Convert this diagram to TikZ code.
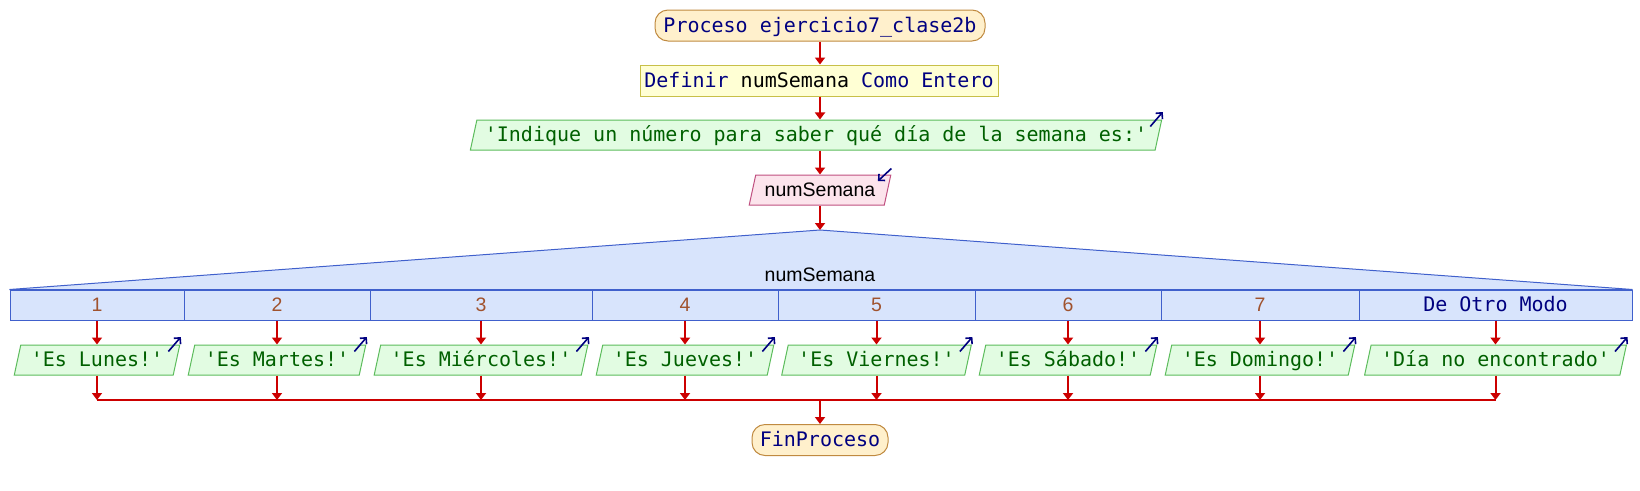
\documentclass[tikz,border=0pt]{standalone}
\usepackage{fontspec}
\setmainfont{Liberation Sans}
\setmonofont{DejaVu Sans Mono}
\usetikzlibrary{shapes.geometric,arrows.meta}
\definecolor{procfill}{HTML}{FFF0CC}
\definecolor{procdraw}{HTML}{C08A40}
\definecolor{deffill}{HTML}{FFFFD4}
\definecolor{defdraw}{HTML}{C8C048}
\definecolor{outfill}{HTML}{E2FCE2}
\definecolor{outdraw}{HTML}{5CBC5C}
\definecolor{outtext}{HTML}{006000}
\definecolor{infill}{HTML}{FCE4EC}
\definecolor{indraw}{HTML}{C05080}
\definecolor{swfill}{HTML}{D8E4FC}
\definecolor{swdraw}{HTML}{4060CC}
\definecolor{casetext}{HTML}{A0522D}
\definecolor{navyc}{HTML}{000080}
\definecolor{flowred}{HTML}{CC0000}
\newcommand\monof{\ttfamily\fontsize{20}{24}\selectfont}
\newcommand\sansf{\rmfamily\fontsize{19.5}{23}\selectfont}
\tikzset{
  txt/.style={text height=16.5pt, text depth=3.5pt},
  flow/.style={draw=flowred, line width=2pt, -{Triangle[length=7pt,width=10pt]}},
  flowline/.style={draw=flowred, line width=2pt},
  term/.style={txt, rectangle, rounded corners=13pt, draw=procdraw, fill=procfill, line width=1pt, minimum height=31pt, text=navyc, font=\monof, inner sep=0pt},
  defbox/.style={txt, rectangle, draw=defdraw, fill=deffill, line width=1pt, minimum height=31pt, font=\monof, inner sep=0pt},
  outp/.style={txt, trapezium, trapezium left angle=72, trapezium right angle=108, trapezium stretches body, draw=outdraw, fill=outfill, line width=1pt, minimum height=30pt, inner xsep=10pt, inner ysep=0pt, text=outtext, font=\monof},
  inp/.style={txt, trapezium, trapezium left angle=72, trapezium right angle=108, trapezium stretches body, draw=indraw, fill=infill, line width=1pt, minimum height=30pt, inner xsep=9pt, inner ysep=0pt, text=black, font=\sansf},
  cell/.style={txt, rectangle, draw=swdraw, fill=swfill, line width=1pt, minimum height=30pt, inner sep=0pt, font=\sansf, text=casetext},
  iconarrow/.style={draw=navyc, line width=1.6pt, -{Straight Barb[length=4.5pt,width=9pt]}},
}
\begin{document}
\begin{tikzpicture}[x=1pt,y=-1pt]
\useasboundingbox (0,0) rectangle (1640,490);
% top sequence
\node[term, minimum width=330pt] (proc) at (820,25.5) {Proceso ejercicio7\_clase2b};
\node[defbox, minimum width=358pt] (def) at (819,80.5) {{\color{navyc}Definir} numSemana {\color{navyc}Como Entero}};
\node[outp, inner xsep=8pt] (out0) at (816,135) {\textquotesingle Indique un número para saber qué día de la semana es:\textquotesingle};
\node[inp] (in0) at (820,190) {numSemana};
\coordinate (apex) at (820,230);
% switch cells
\node[cell, minimum width=174pt] (c1) at (97,305) {1};
\node[cell, minimum width=186pt] (c2) at (277,305) {2};
\node[cell, minimum width=222pt] (c3) at (481,305) {3};
\node[cell, minimum width=186pt] (c4) at (685,305) {4};
\node[cell, minimum width=197pt] (c5) at (876.5,305) {5};
\node[cell, minimum width=186pt] (c6) at (1068,305) {6};
\node[cell, minimum width=198pt] (c7) at (1260,305) {7};
\node[cell, minimum width=273pt, font=\monof, text=navyc] (c8) at (1495.5,305) {De Otro Modo};
\draw[draw=swdraw, fill=swfill, line width=1pt] (c1.north west) -- (apex) -- (c8.north east) -- cycle;
\node[txt, font=\sansf, text=black, inner sep=0pt] (swlab) at (820,275) {numSemana};
% outputs
\node[outp] (o1) at (97,360) {\textquotesingle Es Lunes!\textquotesingle};
\node[outp] (o2) at (277,360) {\textquotesingle Es Martes!\textquotesingle};
\node[outp] (o3) at (481,360) {\textquotesingle Es Miércoles!\textquotesingle};
\node[outp] (o4) at (685,360) {\textquotesingle Es Jueves!\textquotesingle};
\node[outp] (o5) at (876.5,360) {\textquotesingle Es Viernes!\textquotesingle};
\node[outp] (o6) at (1068,360) {\textquotesingle Es Sábado!\textquotesingle};
\node[outp] (o7) at (1260,360) {\textquotesingle Es Domingo!\textquotesingle};
\node[outp] (o8) at (1495.5,360) {\textquotesingle Día no encontrado\textquotesingle};
\coordinate (join) at (820,400);
\node[term, minimum width=136pt] (fin) at (820,440) {FinProceso};
% flow arrows
\draw[flow] (proc.south) -- (proc.south |- def.north);
\draw[flow] (def.south -| proc.south) -- (proc.south |- out0.north);
\draw[flow] (proc.south |- out0.south) -- (proc.south |- in0.north);
\draw[flow] (proc.south |- in0.south) -- (apex);
\foreach \i in {1,...,8} {
  \draw[flow] (c\i.south) -- (c\i.south |- o\i.north);
  \draw[flow] (c\i.south |- o\i.south) -- (c\i.south |- join);
}
\draw[flowline] (c1.south |- join) -- (c8.south |- join);
\draw[flow] (join) -- (fin.north);
% icons
\foreach \n in {out0,o1,o2,o3,o4,o5,o6,o7,o8} {
  \draw[iconarrow] ([shift={(-12,7)}]\n.top right corner) -- ([shift={(0.5,-7.5)}]\n.top right corner);
}
\draw[iconarrow] ([shift={(0,-6)}]in0.top right corner) -- ([shift={(-13.5,6.5)}]in0.top right corner);
\end{tikzpicture}
\end{document}
